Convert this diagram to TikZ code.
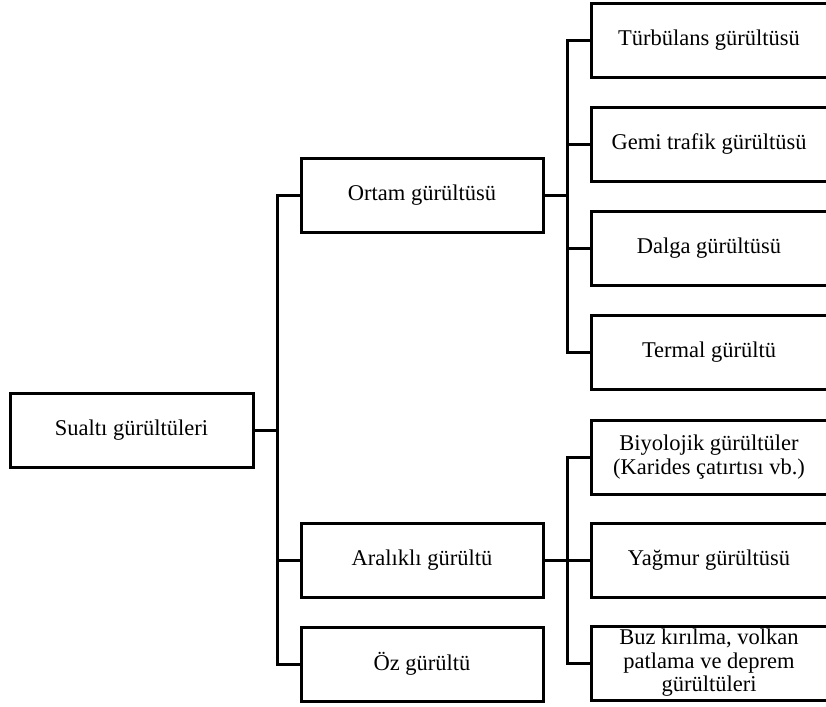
\documentclass[tikz,border=0pt]{standalone}
\usepackage{fontspec}
\setmainfont{Liberation Serif}
\begin{document}
\begin{tikzpicture}[x=1pt,y=-1pt,
  box/.style={draw=black,line width=3pt,rectangle,inner sep=2pt,align=center,
    font=\fontsize{22.5}{23.5}\selectfont,minimum height=74pt},
  midbox/.style={box,minimum width=242pt},
  leafbox/.style={box,minimum width=236pt},
  link/.style={draw=black,line width=3pt,line join=miter}]
\useasboundingbox (0,0) rectangle (826,706);
\clip (0,0) rectangle (826,706);

% root
\node[box,minimum width=243pt] (root) at (131.5,430) {Sualtı gürültüleri};

% second level
\node[midbox] (ortam) at (422,195.5) {Ortam gürültüsü};
\node[midbox] (aralikli) at (422,560.5) {Aralıklı gürültü};
\node[midbox] (oz) at (422,664) {Öz gürültü};

% leaves of the ambient branch
\node[leafbox] (turb) at (709,40.5) {Türbülans gürültüsü};
\node[leafbox] (gemi) at (709,144.5) {Gemi trafik gürültüsü};
\node[leafbox] (dalga) at (709,248.5) {Dalga gürültüsü};
\node[leafbox] (termal) at (709,352.5) {Termal gürültü};

% leaves of the intermittent branch
\node[leafbox] (biyo) at (709,457) {Biyolojik gürültüler\\(Karides çatırtısı vb.)};
\node[leafbox] (yagmur) at (709,560.5) {Yağmur gürültüsü};
\node[leafbox] (buz) at (709,663) {Buz kırılma, volkan\\patlama ve deprem\\gürültüleri};

% bus positions
\coordinate (t) at (277,0);
\coordinate (u) at (567,0);

% root to second level
\draw[link] (root.east) -- (root.east -| t);
\draw[link] (ortam.west) -- (ortam.west -| t) -- (oz.west -| t) -- (oz.west);
\draw[link] (aralikli.west) -- (aralikli.west -| t);

% ambient branch
\draw[link] (turb.west) -- (turb.west -| u) -- (termal.west -| u) -- (termal.west);
\draw[link] (ortam.east) -- (ortam.east -| u);
\draw[link] (gemi.west) -- (gemi.west -| u);
\draw[link] (dalga.west) -- (dalga.west -| u);

% intermittent branch
\draw[link] (biyo.west) -- (biyo.west -| u) -- (buz.west -| u) -- (buz.west);
\draw[link] (aralikli.east) -- (yagmur.west);
\end{tikzpicture}
\end{document}
